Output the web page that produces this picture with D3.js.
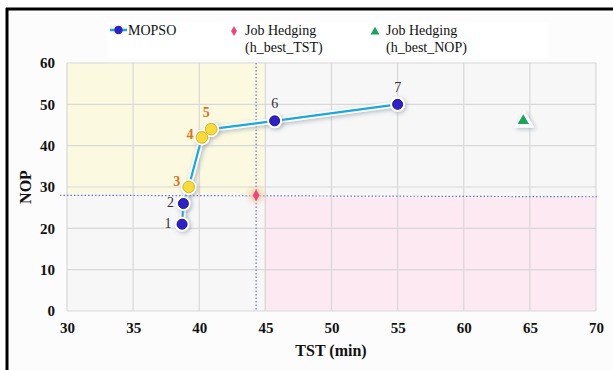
<!DOCTYPE html>
<html><head><meta charset="utf-8">
<script src="https://cdn.jsdelivr.net/npm/d3@7"></script>
<style>body{margin:0;background:#fff}svg{display:block}svg text{font-family:"Liberation Serif","Times New Roman",serif}</style>
</head><body><svg id="c" width="613" height="370"></svg>
<script>
const mopsoTST = [38.7, 38.8, 39.2, 40.2, 40.9, 45.7, 55.0];
const mopsoNOP = [21, 26, 30, 42, 44, 46, 50];
const mopsoLabels = ["1","2","3","4","5","6","7"];
const highlighted = [false,false,true,true,true,false,false];
const hedgeTST = [44.3];
const hedgeTSTNop = [28];
const hedgeNOP = [64.5];
const hedgeNOPNop = [46];
const xTicks = [30,35,40,45,50,55,60,65,70];
const yTicks = [0,10,20,30,40,50,60];

const svg = d3.select("#c");
const font = "Liberation Serif, Times New Roman, serif";
const x = d3.scaleLinear().domain([30,70]).range([67,596]);
const y = d3.scaleLinear().domain([0,60]).range([311,63]);

const defs = svg.append("defs");
const glow = defs.append("filter").attr("id","glow").attr("x","-50%").attr("y","-50%").attr("width","200%").attr("height","200%");
glow.append("feDropShadow").attr("dx",1.5).attr("dy",1.5).attr("stdDeviation",2).attr("flood-color","#9aa4ad").attr("flood-opacity",0.7);
const oglow = defs.append("filter").attr("id","oglow").attr("x","-100%").attr("y","-100%").attr("width","300%").attr("height","300%");
oglow.append("feGaussianBlur").attr("stdDeviation",3);

// frame
svg.append("rect").attr("x",8).attr("y",10).attr("width",605).attr("height",360).attr("fill","#fcfcfc");
svg.append("line").attr("x1",7).attr("x2",7).attr("y1",8).attr("y2",370).attr("stroke","#000").attr("stroke-width",3);
svg.append("line").attr("x1",6).attr("x2",613).attr("y1",9).attr("y2",9).attr("stroke","#000").attr("stroke-width",3);

// plot background
svg.append("rect").attr("x",x(30)).attr("y",y(60)).attr("width",x(70)-x(30)).attr("height",y(0)-y(60)).attr("fill","#f7f7f8");
svg.append("rect").attr("x",x(30)).attr("y",y(60)).attr("width",x(44.9)-x(30)).attr("height",y(28.4)-y(60)).attr("fill","#fcf9e1");
svg.append("rect").attr("x",x(44.9)).attr("y",y(27.5)).attr("width",x(70)-x(44.9)).attr("height",y(0)-y(27.5)).attr("fill","#fde9f2");

// grid
const g = svg.append("g");
g.selectAll(".vg").data(xTicks).join("line").attr("x1",d=>x(d)).attr("x2",d=>x(d)).attr("y1",y(0)).attr("y2",y(60)).attr("stroke","#d8d8d8").attr("stroke-width",1.2);
g.selectAll(".hg").data(yTicks).join("line").attr("x1",x(30)).attr("x2",x(70)).attr("y1",d=>y(d)).attr("y2",d=>y(d)).attr("stroke","#d8d8d8").attr("stroke-width",1.2);

// axes (text only)
const xa = svg.append("g").attr("transform",`translate(0,${y(0)})`).call(d3.axisBottom(x).tickValues(xTicks).tickSize(0).tickPadding(11));
xa.select(".domain").remove();
xa.attr("font-family",null);
xa.selectAll("text").style("font-family",font).attr("font-weight","bold").attr("font-size",15).attr("fill","#111");
const ya = svg.append("g").attr("transform",`translate(${x(30)},0)`).call(d3.axisLeft(y).tickValues(yTicks).tickSize(0).tickPadding(12));
ya.select(".domain").remove();
ya.attr("font-family",null);
ya.selectAll("text").style("font-family",font).attr("font-weight","bold").attr("font-size",15).attr("fill","#111");

svg.append("text").attr("x",331).attr("y",356).attr("text-anchor","middle").style("font-family",font).attr("font-weight","bold").attr("font-size",16).attr("fill","#111").text("TST (min)");
svg.append("text").attr("transform","translate(31,187) rotate(-90)").attr("text-anchor","middle").style("font-family",font).attr("font-weight","bold").attr("font-size",16).attr("fill","#111").text("NOP");

// dotted reference lines
svg.append("line").attr("x1",x(hedgeTST[0])).attr("x2",x(hedgeTST[0])).attr("y1",y(60)).attr("y2",y(0)).attr("stroke","#6a72c8").attr("stroke-width",1.2).attr("stroke-dasharray","1.5,2");
svg.append("line").attr("x1",60).attr("x2",598).attr("y1",y(hedgeTSTNop[0])).attr("y2",y(hedgeTSTNop[0])+1.5).attr("stroke","#6a72c8").attr("stroke-width",1.2).attr("stroke-dasharray","1.5,2");

// line
const pts = mopsoTST.map((t,i)=>({t, n:mopsoNOP[i], l:mopsoLabels[i], h:highlighted[i]}));
const line = d3.line().x(d=>x(d.t)).y(d=>y(d.n));
svg.append("path").datum(pts).attr("d",line).attr("fill","none").attr("stroke","#fff").attr("stroke-width",6).attr("filter","url(#glow)");
svg.append("path").datum(pts).attr("d",line).attr("fill","none").attr("stroke","#1aa7dc").attr("stroke-width",2.2);

// markers
const mk = svg.append("g");
mk.selectAll(".halo").data(pts).join("circle").attr("cx",d=>x(d.t)).attr("cy",d=>y(d.n)).attr("r",d=>d.h?8:7.5).attr("fill","#fff").attr("filter","url(#glow)");
mk.selectAll(".dot").data(pts).join("circle").attr("cx",d=>x(d.t)).attr("cy",d=>y(d.n)).attr("r",d=>d.h?5.8:5)
  .attr("fill",d=>d.h?"#f5dc3c":"#2e22c6").attr("stroke",d=>d.h?"#d9b21a":"#1d1490").attr("stroke-width",1);

// labels
const labOff = {"1":[-14,4],"2":[-13,3],"3":[-12,-1],"4":[-12,2],"5":[-5,-12],"6":[0,-13],"7":[0,-12]};
mk.selectAll(".lab").data(pts).join("text").attr("x",d=>x(d.t)+labOff[d.l][0]).attr("y",d=>y(d.n)+labOff[d.l][1])
  .attr("text-anchor","middle").style("font-family",font).attr("font-size",14).attr("font-weight",d=>d.h?"bold":"normal")
  .attr("fill",d=>d.h?"#d9741c":"#333").text(d=>d.l);

// job hedging diamond
const dx = x(hedgeTST[0]), dy = y(hedgeTSTNop[0]);
svg.append("circle").attr("cx",dx).attr("cy",dy).attr("r",7).attr("fill","#f2c9a8").attr("filter","url(#oglow)");
svg.append("path").attr("d",d3.symbol().type(d3.symbolDiamond).size(40)).attr("transform",`translate(${dx},${dy})`).attr("fill","#e8487c");

// triangle
const tx = x(hedgeNOP[0]), ty = y(hedgeNOPNop[0]);
svg.append("path").attr("d",d3.symbol().type(d3.symbolTriangle).size(180)).attr("transform",`translate(${tx+1},${ty+1})`).attr("fill","#fff").attr("filter","url(#glow)");
svg.append("path").attr("d",d3.symbol().type(d3.symbolTriangle).size(55)).attr("transform",`translate(${tx},${ty})`).attr("fill","#1aa35a");

// legend
const lg = svg.append("g");
lg.append("rect").attr("x",108).attr("y",22).attr("width",440).attr("height",36).attr("fill","#fff");
lg.append("line").attr("x1",110).attr("x2",127).attr("y1",30).attr("y2",30).attr("stroke","#1aa7dc").attr("stroke-width",2.5);
lg.append("circle").attr("cx",118.5).attr("cy",30).attr("r",4.2).attr("fill","#2e22c6");
lg.append("text").attr("x",128).attr("y",35).style("font-family",font).attr("font-size",14).attr("fill","#111").text("MOPSO");
lg.append("path").attr("d",d3.symbol().type(d3.symbolDiamond).size(30)).attr("transform","translate(234,31)").attr("fill","#e8487c");
const t1 = lg.append("text").attr("x",245).attr("y",35).style("font-family",font).attr("font-size",14).attr("fill","#111");
t1.append("tspan").attr("x",245).text("Job Hedging");
t1.append("tspan").attr("x",245).attr("dy",17).text("(h_best_TST)");
lg.append("path").attr("d",d3.symbol().type(d3.symbolTriangle).size(35)).attr("transform","translate(375,32)").attr("fill","#1aa35a");
const t2 = lg.append("text").attr("x",386).attr("y",35).style("font-family",font).attr("font-size",14).attr("fill","#111");
t2.append("tspan").attr("x",386).text("Job Hedging");
t2.append("tspan").attr("x",386).attr("dy",17).text("(h_best_NOP)");
</script></body></html>
